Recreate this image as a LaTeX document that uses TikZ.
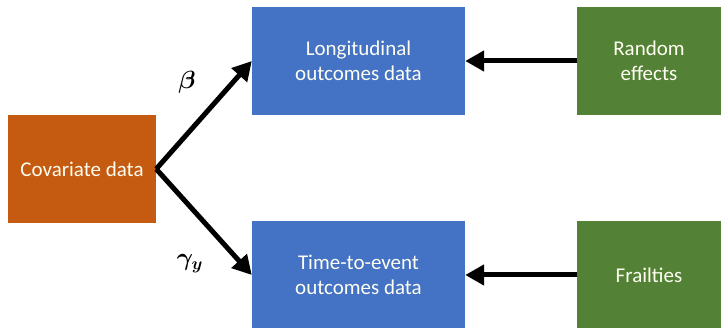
\documentclass[tikz,border=0pt]{standalone}
\usepackage{fontspec}
\usepackage{amsmath,bm}
\setmainfont{Carlito}
\usetikzlibrary{arrows.meta}
\definecolor{corange}{HTML}{C55A11}
\definecolor{cblue}{HTML}{4472C4}
\definecolor{cgreen}{HTML}{538135}
\tikzset{
  boxbase/.style={draw=none, minimum width=#1, text=white!95!yellow, font=\fontsize{21}{25}\selectfont, align=center, inner sep=0pt},
  orangebox/.style={boxbase=148pt, fill=corange, minimum height=108pt},
  bluebox/.style={boxbase=213pt, fill=cblue, minimum height=108pt},
  greenbox/.style={boxbase=144pt, fill=cgreen, minimum height=108pt},
  conn/.style={line width=5pt, -{Triangle[length=19pt,width=20pt]}},
  lbl/.style={font=\fontsize{27}{30}\selectfont}
}
\begin{document}
\begin{tikzpicture}[x=1pt,y=-1pt]
\useasboundingbox (0,0) rectangle (721,328);
\node[orangebox] (cov) at (82,169) {Covariate data};
\node[bluebox] (lon) at (358.5,61) {Longitudinal\\outcomes data};
\node[bluebox] (tte) at (358.5,275) {Time-to-event\\outcomes data};
\node[greenbox] (re) at (649,61) {Random\\effects};
\node[greenbox] (fr) at (649,275) {Frailties};
\coordinate (cp) at (cov.east);
\draw[conn, line join=miter] (cp) -- (lon.west);
\draw[conn, line join=miter] (cp) -- (tte.west);
\draw[conn] (re.west) -- (lon.east);
\draw[conn] (fr.west) -- (tte.east);
\node[lbl] (beta) at (187,82) {$\bm{\beta}$};
\node[lbl] (gam) at (190,264) {$\bm{\gamma_y}$};
\end{tikzpicture}
\end{document}
